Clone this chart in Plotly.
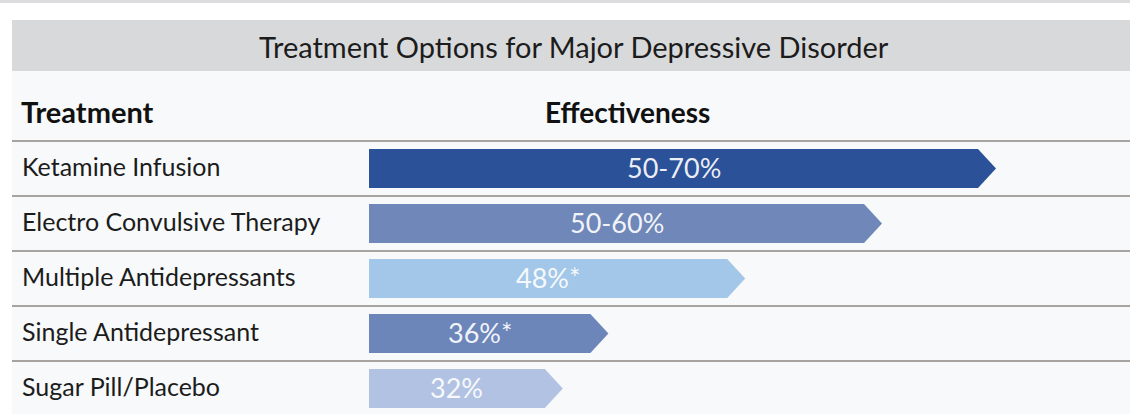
import plotly.graph_objects as go

# Table content
title = "Treatment Options for Major Depressive Disorder"
col_headers = ["Treatment", "Effectiveness"]
treatments = [
    "Ketamine Infusion",
    "Electro Convulsive Therapy",
    "Multiple Antidepressants",
    "Single Antidepressant",
    "Sugar Pill/Placebo",
]
effect_labels = ["50-70%", "50-60%", "48%*", "36%*", "32%"]
effect_values = [70, 60, 48, 36, 32]
bar_colors = ["#2b5198", "#6f88b9", "#a3c7e8", "#6d86ba", "#b2c2e3"]

W, H = 1130, 414
FONT = "Lato, 'Open Sans', sans-serif"

# Pixel geometry used to place the effectiveness axis
row_top, row_h = 141, 55          # first row separator and row pitch (px)
bar_h = 39                         # bar thickness (px)
axis_base = 15                     # bars grow from this value
px_per_unit = 11.4
base_px = 369
head_px = 18                       # arrow head length (px)

x_lo = axis_base - base_px / px_per_unit
x_hi = x_lo + W / px_per_unit
first_center = row_top + row_h / 2
y_top = -first_center / row_h
y_bot = (H - first_center) / row_h
half = bar_h / 2 / row_h
head = head_px / px_per_unit


def px(x):
    return x / W


def py(y):
    return 1 - y / H


fig = go.Figure()

for i, (val, lab, col) in enumerate(zip(effect_values, effect_labels, bar_colors)):
    body_end = val - head
    fig.add_trace(go.Scatter(
        x=[axis_base, body_end, val, body_end, axis_base, axis_base],
        y=[i - half, i - half, i, i + half, i + half, i - half],
        fill="toself", fillcolor=col, mode="lines",
        line=dict(width=0, color=col), hoverinfo="skip", showlegend=False,
    ))
    fig.add_annotation(
        x=(axis_base + body_end) / 2, y=i, text=lab, showarrow=False,
        font=dict(family=FONT, size=27, color="rgba(255,255,255,0.92)"),
        xanchor="center", yanchor="middle", yshift=1,
    )
    fig.add_annotation(
        xref="paper", x=px(20), y=i, text=treatments[i], showarrow=False,
        font=dict(family=FONT, size=25, color="#1c1c1c"),
        xanchor="left", yanchor="middle", yshift=3,
    )

shapes = [
    dict(type="rect", xref="paper", yref="paper", x0=0, x1=1, y0=py(3), y1=py(0),
         fillcolor="#dcdcde", line_width=0, layer="below"),
    dict(type="rect", xref="paper", yref="paper", x0=px(12), x1=1, y0=py(71), y1=py(20),
         fillcolor="#d8d9db", line_width=0, layer="below"),
    dict(type="rect", xref="paper", yref="paper", x0=px(12), x1=1, y0=0, y1=py(71),
         fillcolor="#f7f9fa", line_width=0, layer="below"),
]
for k in range(len(treatments)):
    y = row_top + k * row_h
    shapes.append(dict(type="line", xref="paper", yref="paper", x0=px(12), x1=1,
                       y0=py(y), y1=py(y), line=dict(color="#a7a3a1", width=2),
                       layer="below"))

fig.add_annotation(xref="paper", yref="paper", x=px(574), y=py(46), text=title,
                   showarrow=False, xanchor="center", yanchor="middle",
                   font=dict(family=FONT, size=29, color="#1c1c1c"))
fig.add_annotation(xref="paper", yref="paper", x=px(19), y=py(112),
                   text="<b>%s</b>" % col_headers[0], showarrow=False,
                   xanchor="left", yanchor="middle",
                   font=dict(family=FONT, size=29, color="#111111"))
fig.add_annotation(xref="paper", yref="paper", x=px(627), y=py(112),
                   text="<b>%s</b>" % col_headers[1], showarrow=False,
                   xanchor="center", yanchor="middle",
                   font=dict(family=FONT, size=28, color="#111111"))

fig.update_layout(
    width=W, height=H, margin=dict(l=0, r=0, t=0, b=0),
    paper_bgcolor="white", plot_bgcolor="rgba(0,0,0,0)",
    shapes=shapes,
    xaxis=dict(range=[x_lo, x_hi], visible=False, fixedrange=True),
    yaxis=dict(range=[y_bot, y_top], visible=False, fixedrange=True),
)

fig.write_html("out.html")
